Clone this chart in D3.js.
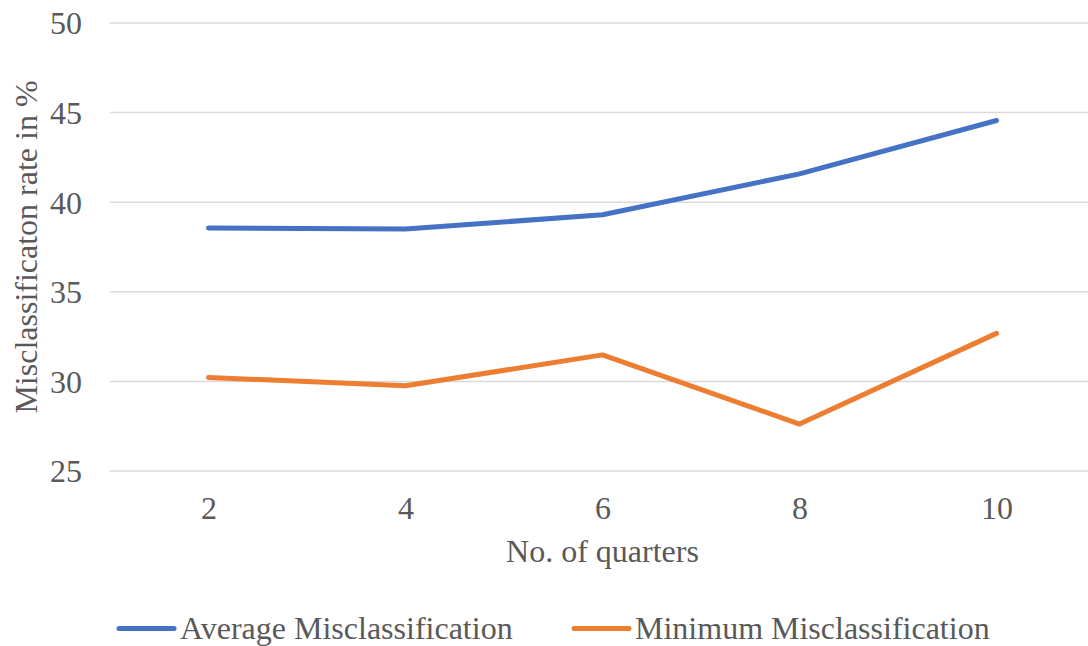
<!DOCTYPE html>
<html>
<head>
<meta charset="utf-8">
<script src="https://cdn.jsdelivr.net/npm/d3@7"></script>
<style>
  html, body { margin: 0; padding: 0; background: #fff; }
  svg { display: block; }
</style>
</head>
<body>
<svg id="chart" width="1088" height="646"></svg>
<script>
// Misclassification rate by number of quarters
const quarters = [2, 4, 6, 8, 10];
const averageMisclassification = [38.56, 38.50, 39.30, 41.58, 44.56];
const minimumMisclassification = [30.22, 29.76, 31.48, 27.62, 32.68];
const yTicks = [25, 30, 35, 40, 45, 50];
const seriesNames = ["Average Misclassification", "Minimum Misclassification"];
const seriesColors = ["#4472C4", "#ED7D31"];

const FONT = "Liberation Serif";
const TEXT_COLOR = "#595959";

const svg = d3.select("#chart");
const W = 1088;
const plot = { left: 110, right: 1095, top: 23, bottom: 471 };

const x = d3.scalePoint()
  .domain(quarters)
  .range([plot.left, plot.right])
  .padding(0.5);

const y = d3.scaleLinear()
  .domain([25, 50])
  .range([plot.bottom, plot.top]);

// horizontal gridlines
svg.append("g")
  .selectAll("line")
  .data(yTicks)
  .join("line")
  .attr("x1", plot.left)
  .attr("x2", W)
  .attr("y1", d => y(d))
  .attr("y2", d => y(d))
  .attr("stroke", "#D9D9D9")
  .attr("stroke-width", 1.5);

// y axis labels
const yAxis = d3.axisLeft(y).tickValues(yTicks).tickSize(0).tickPadding(0);
const gy = svg.append("g").attr("transform", "translate(82,0)").call(yAxis)
  .attr("font-family", FONT).attr("font-size", 32);
gy.select(".domain").remove();
gy.selectAll("text")
  .attr("fill", TEXT_COLOR)
  .attr("dy", "0.34em");

// x axis labels
const xAxis = d3.axisBottom(x).tickSize(0).tickPadding(0);
const gx = svg.append("g").attr("transform", "translate(0,519)").call(xAxis)
  .attr("font-family", FONT).attr("font-size", 32);
gx.select(".domain").remove();
gx.selectAll("text")
  .attr("fill", TEXT_COLOR)
  .attr("dy", 0)
  .attr("y", 0);

// axis titles
svg.append("text")
  .attr("x", (508 + 697) / 2)
  .attr("y", 561.5)
  .attr("text-anchor", "middle")
  .attr("font-family", FONT)
  .attr("font-size", 32)
  .attr("fill", TEXT_COLOR)
  .text("No. of quarters");

svg.append("text")
  .attr("transform", `translate(37,${(plot.top + plot.bottom) / 2}) rotate(-90)`)
  .attr("text-anchor", "middle")
  .attr("font-family", FONT)
  .attr("font-size", 32)
  .attr("fill", TEXT_COLOR)
  .text("Misclassificaton rate in %");

// series lines
const series = [averageMisclassification, minimumMisclassification];
const line = d3.line()
  .x((d, i) => x(quarters[i]))
  .y(d => y(d));

svg.append("g")
  .selectAll("path")
  .data(series)
  .join("path")
  .attr("d", line)
  .attr("fill", "none")
  .attr("stroke", (d, i) => seriesColors[i])
  .attr("stroke-width", 5)
  .attr("stroke-linecap", "round")
  .attr("stroke-linejoin", "round");

// legend
const legendX = [119, 574];
const legend = svg.append("g")
  .selectAll("g")
  .data(seriesNames)
  .join("g")
  .attr("transform", (d, i) => `translate(${legendX[i]},628.5)`);

legend.append("line")
  .attr("x1", 0).attr("x2", 55)
  .attr("y1", 0).attr("y2", 0)
  .attr("stroke", (d, i) => seriesColors[i])
  .attr("stroke-width", 5)
  .attr("stroke-linecap", "round");

legend.append("text")
  .attr("x", 61)
  .attr("y", 10)
  .attr("font-family", FONT)
  .attr("font-size", 32)
  .attr("fill", TEXT_COLOR)
  .text(d => d);
</script>
</body>
</html>
